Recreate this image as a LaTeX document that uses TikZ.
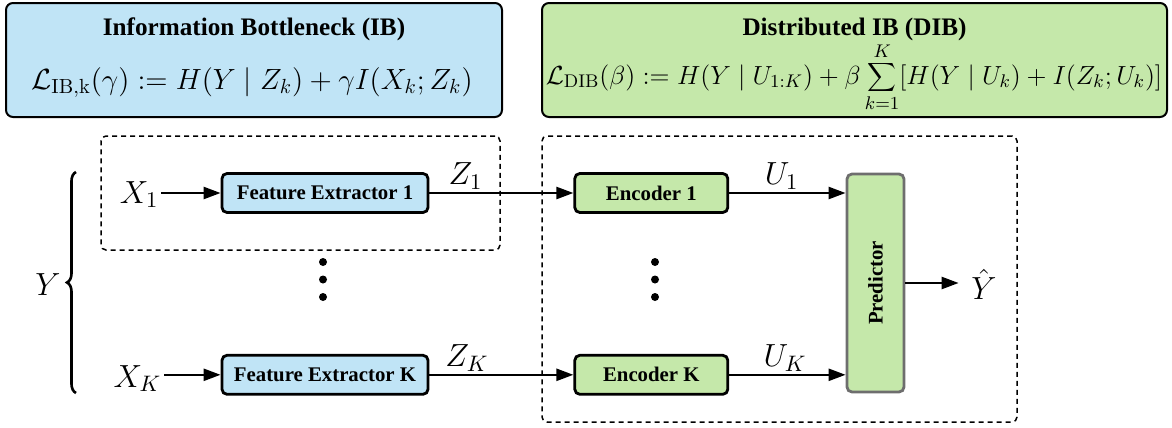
\documentclass[tikz,border=0pt]{standalone}
\usepackage{fix-cm}
\usepackage[no-math]{fontspec}
\setmainfont{Liberation Serif}
\usetikzlibrary{arrows.meta, positioning, decorations.pathreplacing}

\definecolor{ibblue}{RGB}{192,228,246}
\definecolor{dibgreen}{RGB}{197,232,170}
\definecolor{predgray}{RGB}{110,110,110}

\begin{document}
\begin{tikzpicture}[
        x=0.5pt, y=-0.5pt,
        node distance=72pt,
    lossbox/.style={rectangle, draw, line width=1pt, rounded corners=3.5pt, minimum height=57pt, inner sep=0pt},
    title/.style={inner sep=0pt, font=\fontsize{12.6}{15}\selectfont\bfseries},
    loss/.style={inner sep=0pt, font=\fontsize{14.6}{17}\selectfont},
    group/.style={rectangle, draw, line width=0.75pt, dash pattern=on 2.5pt off 2pt, rounded corners=2.5pt, inner sep=0pt},
    block/.style={rectangle, draw, line width=1.4pt, rounded corners=2.5pt, text centered, minimum height=19.5pt, inner sep=0pt, font=\fontsize{10.4}{12}\selectfont\bfseries},
    var/.style={inner sep=1.2pt, font=\fontsize{16}{19}\selectfont},
    line/.style={draw, -{Triangle[length=8.5pt,width=6pt]}, line width=1.2pt},
    brace/.style={draw, line width=1.3pt, decorate, decoration={brace, amplitude=4.5pt}}
    ]
    \useasboundingbox (0,0) rectangle (1172,428);

    % loss boxes
    \node[lossbox, fill=ibblue, minimum width=248pt] (ibbox) at (254,60) {};
    \node[lossbox, fill=dibgreen, minimum width=312.5pt] (dibbox) at (854.5,60) {};
    \node[title, anchor=base] (ibtitle) at (254,35) {Information Bottleneck (IB)};
    \node[loss, anchor=base] (ibloss) at (252,89) {$\mathcal{L}_{\mathrm{IB,k}}(\gamma) := H(Y \mid Z_k) + \gamma I(X_k; Z_k)$};
    \node[title, anchor=base] (dibtitle) at (854.5,35) {Distributed IB (DIB)};
    \node[loss, anchor=base, font=\fontsize{13.1}{16}\selectfont] (dibloss) at (854,84) {$\displaystyle \mathcal{L}_{\mathrm{DIB}}(\beta) := H(Y \mid U_{1:K}) + \beta \sum_{k=1}^{K} [H(Y \mid U_k) + I(Z_k; U_k)]$};

    % dashed groups
    \node[group, minimum width=199.5pt, minimum height=57pt] (ibgroup) at (300.5,193) {};
    \node[group, minimum width=237.5pt, minimum height=143pt] (dibgroup) at (779.5,279) {};

    % blocks
    \node[block, fill=ibblue, minimum width=103pt] (fe1) at (325,193) {Feature Extractor 1};
    \node[block, fill=ibblue, minimum width=103pt, below=70pt of fe1] (feK) {Feature Extractor K};
    \node[block, fill=dibgreen, minimum width=76.5pt, right=of fe1] (enc1) {Encoder 1};
    \node[block, fill=dibgreen, minimum width=76.5pt, right=of feK] (encK) {Encoder K};
    \node[block, fill=dibgreen, draw=predgray, minimum width=28.5pt, minimum height=109pt] (pred) at (875.5,283) {\rotatebox{90}{Predictor}};

    % variables
    \node[var, anchor=base east] (x1) at (161,203) {$X_1$};
    \node[var, anchor=base east] (xK) at (164,387) {$X_K$};
    \node[var] (y) at (48,285) {$Y$};
    \node[var] (yhat) at (984,284) {$\hat{Y}$};
    \coordinate (bracebot) at (76,393);
    \coordinate (bracetop) at (76,172);

    % lines
    \path[brace] (bracebot) -- (bracetop);
    \path[line] (x1.east |- fe1.west) -- (fe1.west);
    \path[line] (xK.east |- feK.west) -- (feK.west);
    \path[line] (fe1.east) -- node[var, above, pos=0.25] (z1) {$Z_1$} (enc1.west);
    \path[line] (feK.east) -- node[var, above, pos=0.26] (zK) {$Z_K$} (encK.west);
    \path[line] (enc1.east) -- node[var, above, pos=0.45] (u1) {$U_1$} (enc1.east -| pred.west);
    \path[line] (encK.east) -- node[var, above, pos=0.48] (uK) {$U_K$} (encK.east -| pred.west);
    \path[line, shorten >=5pt] (pred.east) -- (pred.east -| yhat.west);

    % dots
    \foreach \y in {262,279.5,297} {
        \fill (323,\y) circle[radius=2pt];
        \fill (655,\y) circle[radius=2pt];
    }

    \end{tikzpicture}
\end{document}
